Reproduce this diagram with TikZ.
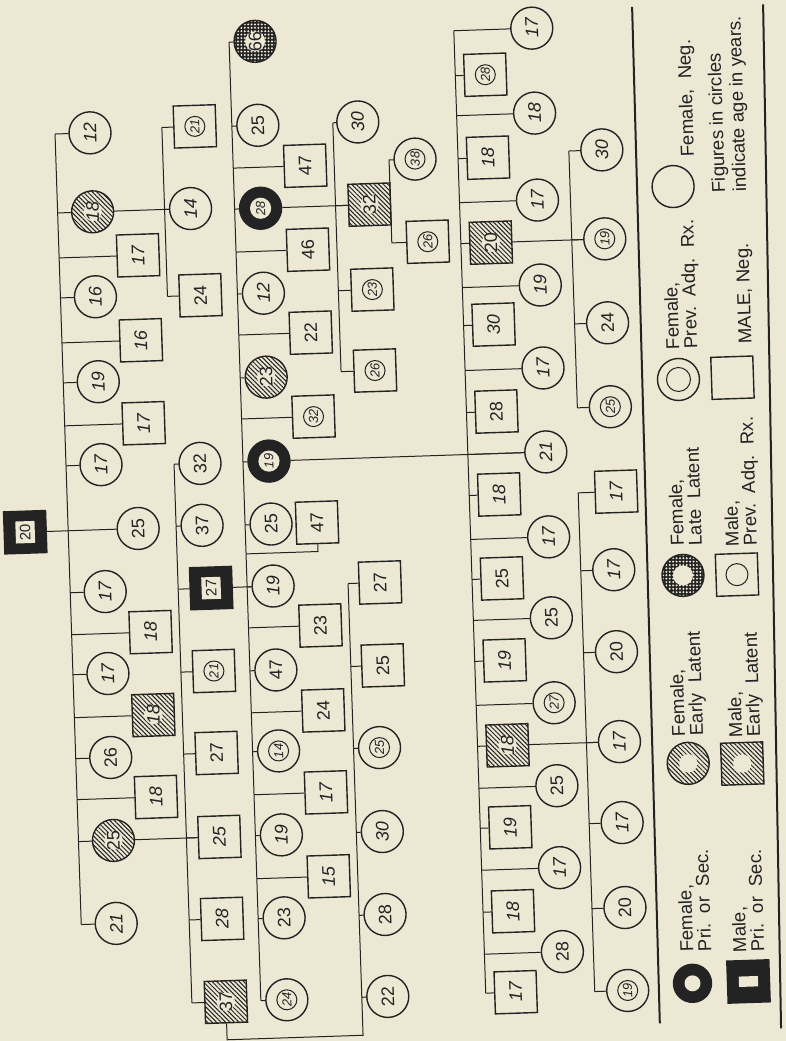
\documentclass[tikz,border=0pt]{standalone}
\usepackage{fontspec}
\setsansfont{Liberation Sans}
\usetikzlibrary{patterns.meta}
\definecolor{paper}{HTML}{ECE8D4}
\definecolor{inkc}{HTML}{232323}
\newcommand\agefont{\fontsize{9}{9}\selectfont\sffamily}
\newcommand\rxfont{\fontsize{6.5}{6.5}\selectfont\sffamily\itshape}
\newcommand\keyfont{\fontsize{9.3}{9}\selectfont\sffamily}

\begin{document}
\begin{tikzpicture}[x=0.5pt,y=-0.5pt,
    ageF/.style={circle,draw=inkc,line width=0.7pt,fill=paper,minimum size=21pt,inner sep=0pt,rotate=90,font=\agefont,text=inkc},
    ageM/.style={rectangle,draw=inkc,line width=0.7pt,fill=paper,minimum size=21pt,inner sep=0pt,rotate=90,font=\agefont,text=inkc},
    handw/.style={font=\agefont\itshape},
    prevrx/.style={font=\rxfont,path picture={\draw[inkc,line width=0.5pt] (path picture bounding box.center) circle[radius=#1];}},
    prevrx/.default=5pt,
    hatchd/.style={preaction={fill=paper},pattern={Lines[angle=-45,distance=1.6pt,line width=0.5pt]},pattern color=inkc,
        path picture={\fill[paper] (path picture bounding box.center) circle[radius=4.6pt];}},
    dotd/.style={preaction={fill=inkc},pattern={Dots[distance=1.7pt,radius=0.55pt]},pattern color=paper,
        path picture={\fill[paper] (path picture bounding box.center) circle[radius=5pt];}},
    prim/.style={fill=inkc,font=\rxfont,path picture={\fill[paper] (path picture bounding box.center) circle[radius=#1];}},
    prim/.default=5.3pt,
    prisq/.style={fill=inkc,font=\fontsize{7.5}{7.5}\selectfont\sffamily,
        path picture={\fill[paper] ([shift={(-#1,-4.8pt)}]path picture bounding box.center) rectangle ([shift={(#1,4.8pt)}]path picture bounding box.center);}},
    prisq/.default=5.5pt,
    sibline/.style={draw=inkc,line width=0.5pt},
    keyline/.style={draw=inkc,line width=1pt},
    keytext/.style={rotate=90,anchor=north west,inner sep=0pt,align=left,font=\keyfont,text=inkc},
    figtext/.style={font=\fontsize{9.3}{10.5}\selectfont\sffamily}
]
\fill[paper] (0,0) rectangle (786,1041);
\useasboundingbox (0,0) rectangle (786,1041);

\begin{scope}[transform canvas={rotate around={1.9:(393,520)}}]

% generation I
\node[ageM,prisq] (p20) at (25,520) {20};
\node[ageF] (p25) at (138,520) {25};
\draw[sibline] (p20) -- (p25);

% children of 20 and 25
\coordinate (col1) at (68,0);
\node[ageF,handw] (a1) at (103,123) {12};
\node[ageF,hatchd,handw] (a2) at (103,202) {18};
\node[ageM,handw] (a3) at (147,247) {17};
\node[ageF,handw] (a4) at (103,287) {16};
\node[ageM,handw] (a5) at (147,332) {16};
\node[ageF,handw] (a6) at (103,372) {19};
\node[ageM,handw] (a7) at (147,415) {17};
\node[ageF,handw] (a8) at (103,455) {17};
\node[ageF,handw] (a9) at (103,582) {17};
\node[ageM,handw] (a10) at (147,624) {18};
\node[ageF,handw] (a11) at (103,664) {17};
\node[ageM,hatchd,handw] (a12) at (147,707) {18};
\node[ageF] (a13) at (103,748) {26};
\node[ageM,handw] (a14) at (147,789) {18};
\node[ageF,hatchd] (a15) at (103,831) {25};
\node[ageF,handw] (a16) at (103,914) {21};
\draw[sibline] (a1 -| col1) -- (a16 -| col1);
\foreach \k in {1,...,16} \draw[sibline] (a\k) -- (a\k -| col1);

% children of 18
\coordinate (col1b) at (175,0);
\node[ageM,prevrx] (b1) at (208,120) {21};
\node[ageF,handw] (b2) at (201,202) {14};
\node[ageM] (b3) at (208,289) {24};
\draw[sibline] (b1 -| col1b) -- (b3 -| col1b);
\foreach \k in {1,2,3} \draw[sibline] (b\k) -- (b\k -| col1b);
\draw[sibline] (a2) -- (b2);

% children of 25
\coordinate (col2) at (176,0);
\node[ageF] (c1) at (202,457) {32};
\node[ageF] (c2) at (202,519) {37};
\node[ageM,prisq] (c3) at (209,582) {27};
\node[ageM,prevrx] (c4) at (209,665) {21};
\node[ageM] (c5) at (209,747) {27};
\node[ageM,handw] (c6) at (209,831) {25};
\node[ageM,handw] (c7) at (209,913) {28};
\node[ageM,hatchd] (c8) at (210,996) {37};
\draw[sibline] (c1 -| col2) -- (c8 -| col2);
\foreach \k in {1,...,8} \draw[sibline] (c\k) -- (c\k -| col2);
\draw[sibline] (a15) -- (c6);

% children of 27
\coordinate (col3) at (245,0);
\node[ageF,dotd] (d1) at (271,37) {66};
\node[ageF] (d2) at (271,121) {25};
\node[ageM] (d3) at (317,163) {47};
\node[ageF,prim] (d4) at (271,204) {28};
\node[ageM] (d5) at (317,247) {46};
\node[ageF,handw] (d6) at (271,289) {12};
\node[ageM] (d7) at (317,330) {22};
\node[ageF,hatchd] (d8) at (271,373) {23};
\node[ageM,prevrx] (d9) at (317,414) {32};
\node[ageF,prim] (d10) at (271,457) {19};
\node[ageF] (d11) at (271,520) {25};
\node[ageM] (d12) at (317,520) {47};
\node[ageF,handw] (d13) at (271,582) {19};
\node[ageM] (d14) at (317,623) {23};
\node[ageF] (d15) at (271,666) {47};
\node[ageM] (d16) at (317,708) {24};
\node[ageF,prevrx] (d17) at (271,747) {14};
\node[ageM,handw] (d18) at (317,790) {17};
\node[ageF,handw] (d19) at (271,831) {19};
\node[ageM,handw] (d20) at (317,874) {15};
\node[ageF] (d21) at (271,914) {23};
\node[ageF,prevrx] (d22) at (271,996) {24};
\draw[sibline] (d1 -| col3) -- (d22 -| col3);
\foreach \k in {1,...,11} \draw[sibline] (d\k) -- (d\k -| col3);
\foreach \k in {13,...,22} \draw[sibline] (d\k) -- (d\k -| col3);
\coordinate (d12b) at (317,549);
\draw[sibline] (d12) -- (d12b) -- (d12b -| col3);
\draw[sibline] (c3) -- (d13);

% children of 37
\coordinate (col3b) at (346,0);
\node[ageM] (e1) at (378,582) {27};
\node[ageM] (e2) at (378,665) {25};
\node[ageF,prevrx] (e3) at (372,747) {25};
\node[ageF,handw] (e4) at (372,831) {30};
\node[ageF] (e5) at (372,914) {28};
\node[ageF] (e6) at (372,996) {22};
\coordinate (c8b) at (210,1034);
\draw[sibline] (c8) -- (c8b) -- (c8b -| col3b) -- (e1 -| col3b);
\foreach \k in {1,...,6} \draw[sibline] (e\k) -- (e\k -| col3b);

% children of 28
\coordinate (col4) at (346,0);
\node[ageF,handw] (f1) at (371,121) {30};
\node[ageM,hatchd] (f2) at (380,204) {32};
\node[ageM,prevrx] (f3) at (380,289) {23};
\node[ageM,prevrx] (f4) at (380,370) {26};
\draw[sibline] (f1 -| col4) -- (f4 -| col4);
\foreach \k in {1,...,4} \draw[sibline] (f\k) -- (f\k -| col4);
\draw[sibline] (d4) -- (f2);

% children of 32
\coordinate (col4b) at (401,0);
\node[ageF,prevrx] (g1) at (427,160) {38};
\node[ageM,prevrx] (g2) at (437,243) {26};
\draw[sibline] (g1) -- (g1 -| col4b) -- (g2 -| col4b) -- (g2);

% children of 19
\coordinate (col5) at (470,0);
\node[ageF,handw] (h1) at (548,33) {17};
\node[ageM,prevrx] (h2) at (500,78) {28};
\node[ageF,handw] (h3) at (548,118) {18};
\node[ageM,handw] (h4) at (500,161) {18};
\node[ageF,handw] (h5) at (548,205) {17};
\node[ageM,hatchd] (h6) at (500,246) {20};
\node[ageF,handw] (h7) at (548,290) {19};
\node[ageM,handw] (h8) at (500,328) {30};
\node[ageF,handw] (h9) at (548,373) {17};
\node[ageM] (h10) at (500,415) {28};
\node[ageF,handw] (h11) at (548,457) {21};
\node[ageM,handw] (h12) at (500,498) {18};
\node[ageF,handw] (h13) at (548,542) {17};
\node[ageM] (h14) at (500,582) {25};
\node[ageF] (h15) at (548,623) {25};
\node[ageM,handw] (h16) at (500,664) {19};
\node[ageF,prevrx] (h17) at (548,708) {27};
\node[ageM,hatchd,handw] (h18) at (500,749) {18};
\node[ageF] (h19) at (548,791) {25};
\node[ageM,handw] (h20) at (500,831) {19};
\node[ageF,handw] (h21) at (548,873) {17};
\node[ageM,handw] (h22) at (500,915) {18};
\node[ageF] (h23) at (548,957) {28};
\node[ageM,handw] (h24) at (500,996) {17};
\draw[sibline] (h1 -| col5) -- (h24 -| col5);
\foreach \k in {1,...,24} \draw[sibline] (h\k) -- (h\k -| col5);
\draw[sibline] (d10) -- (h11);

% children of 20
\coordinate (col6a) at (581,0);
\node[ageF,handw] (i1) at (614,157) {30};
\node[ageF,prevrx] (i2) at (614,246) {19};
\node[ageF] (i3) at (614,330) {24};
\node[ageF,prevrx] (i4) at (614,414) {25};
\draw[sibline] (i1 -| col6a) -- (i4 -| col6a);
\foreach \k in {1,...,4} \draw[sibline] (i\k) -- (i\k -| col6a);
\draw[sibline] (h6) -- (i2);

% children of 18
\coordinate (col6b) at (579,0);
\node[ageM,handw] (j1) at (617,499) {17};
\node[ageF,handw] (j2) at (612,577) {17};
\node[ageF] (j3) at (612,659) {20};
\node[ageF,handw] (j4) at (612,749) {17};
\node[ageF,handw] (j5) at (612,830) {17};
\node[ageF] (j6) at (612,915) {20};
\node[ageF,prevrx] (j7) at (612,998) {19};
\draw[sibline] (j1 -| col6b) -- (j7 -| col6b);
\foreach \k in {1,...,7} \draw[sibline] (j\k) -- (j\k -| col6b);
\draw[sibline] (h18) -- (j4);

% key
\draw[keyline] (649,15) -- (643,1032);
\draw[keyline] (780,17) -- (764,1041);
\node[ageF] (kfn) at (684,196) {};
\node[ageF,prevrx=6pt] (kfp) at (683,389) {};
\node[ageM] (kmn) at (737,389) {};
\node[ageF,dotd] (kfl) at (681,585) {};
\node[ageM,prevrx=5.5pt] (kmp) at (735,586) {};
\node[ageF,hatchd] (kfe) at (680,773) {};
\node[ageM,hatchd] (kme) at (734,775) {};
\node[ageF,prim=4pt,minimum size=19pt] (kfs) at (677,993) {};
\node[ageM,prisq=2.6pt] (kms) at (733,993) {};
\node[keytext] (tfn) at (692,167) {Female,\ \ Neg.};
\node[keytext] (tfp) at (671,359) {Female,\\Prev.\ \ Adq.\ \ Rx.};
\node[keytext] (tmn) at (744,356) {MALE,\ Neg.};
\node[keytext,figtext] (tfig) at (722,204) {Figures in circles\\indicate age in years.};
\node[keytext] (tfl) at (669,556) {Female,\\Late\ \ Latent};
\node[keytext] (tmp) at (724,558) {Male,\\Prev.\ \ Adq.\ \ Rx.};
\node[keytext] (tfe) at (664,746) {Female,\\Early\ \ Latent};
\node[keytext] (tme) at (721,749) {Male,\\Early\ \ Latent};
\node[keytext] (tfs) at (665,962) {Female,\\Pri.\ \ or\ \ Sec.};
\node[keytext] (tms) at (718,964) {Male,\\Pri.\ \ or\ \ Sec.};

\end{scope}
\end{tikzpicture}
\end{document}
